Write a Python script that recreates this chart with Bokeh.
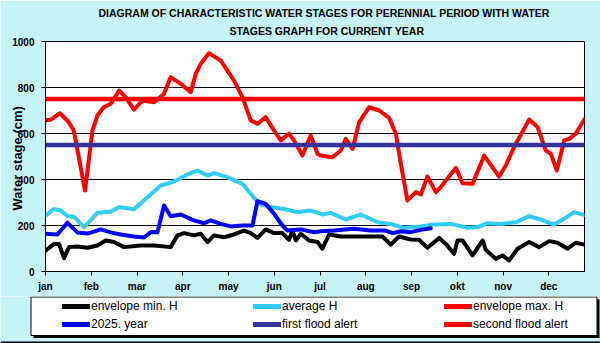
from bokeh.plotting import figure
from bokeh.models import (Range1d, FixedTicker, Legend, LegendItem, Title)
from bokeh.embed import file_html
from bokeh.resources import INLINE

# ---- data (day of year, water stage in cm) ----
MONTHS = ["jan", "feb", "mar", "apr", "may", "jun", "jul", "aug", "sep", "okt", "nov", "dec"]

min_days = [0, 5.7, 9.0, 12.3, 15.6, 21.2, 27.9, 34.5, 40.0, 45.5, 52.2, 63.3, 72.2, 83.2, 87.7, 92.1,
            98.7, 103.2, 107.7, 112.0, 118.7, 125.3, 132.0, 136.4, 140.9, 146.4, 151.9, 157.5, 161.9,
            164.2, 166.4, 169.7, 175.2, 180.8, 184.1, 188.5, 196.3, 216.2, 224.0, 229.5, 235.1, 242.8,
            248.3, 253.9, 261.7, 266.1, 271.6, 273.9, 277.2, 283.9, 290.6, 292.7, 299.4, 303.8, 308.2,
            313.8, 321.5, 328.1, 334.8, 340.4, 347.0, 352.5, 358.1]
min_vals = [91, 120, 120, 58, 106, 109, 103, 113, 135, 128, 106, 113, 113, 106, 157, 167,
            157, 164, 128, 157, 149, 161, 178, 167, 146, 183, 167, 167, 138,
            178, 135, 164, 135, 128, 99, 161, 152, 152, 152, 117, 152, 139,
            138, 103, 146, 120, 77, 135, 135, 70, 135, 94, 55, 70, 48,
            99, 128, 106, 132, 125, 99, 125, 117]

avg_days = [0, 5.7, 10.1, 14.6, 19.0, 25.6, 34.5, 43.3, 48.9, 58.8, 67.8, 76.6, 85.4, 94.4, 101.0,
            107.7, 112.0, 120.9, 130.9, 136.4, 142.0, 149.7, 158.6, 167.5, 176.3, 184.1, 189.6, 199.6,
            209.6, 220.7, 229.5, 238.4, 249.5, 258.3, 269.4, 280.5, 287.2, 293.8, 302.7, 312.7, 321.5,
            329.3, 338.1, 344.8, 351.4, 358.1]
avg_vals = [243, 272, 265, 241, 238, 193, 255, 260, 280, 271, 323, 374, 391, 422, 439,
            417, 428, 410, 381, 338, 294, 280, 272, 258, 265, 248, 255, 226,
            248, 214, 207, 190, 196, 204, 207, 190, 193, 210, 207, 214, 241,
            226, 204, 229, 258, 246]

max_days = [0, 3.5, 9.6, 15.4, 18.8, 26.3, 31.2, 34.5, 38.7, 43.3, 48.9, 53.3, 58.8, 64.4, 72.2, 78.8,
            83.2, 89.9, 96.5, 99.9, 103.2, 108.7, 116.5, 125.3, 130.9, 136.4, 140.9, 146.4, 151.9,
            156.4, 161.9, 165.2, 170.8, 176.3, 180.8, 183.0, 190.8, 196.3, 199.6, 204.1, 208.5, 215.1,
            221.8, 228.4, 232.9, 236.2, 240.6, 246.2, 249.5, 253.9, 259.5, 262.8, 272.8, 277.2, 283.9,
            291.6, 301.5, 306.0, 311.5, 321.5, 327.1, 332.6, 335.9, 339.9, 344.8, 348.1, 352.5, 358.1]
max_vals = [658, 660, 688, 650, 613, 352, 613, 678, 714, 729, 787, 758, 704, 743, 736, 773,
            845, 816, 780, 860, 903, 949, 917, 830, 758, 657, 642, 671, 613,
            570, 599, 570, 504, 591, 512, 504, 497, 526, 577, 533, 649, 714,
            700, 668, 599, 468, 309, 345, 335, 413, 345, 367, 451, 384, 381,
            504, 413, 461, 541, 661, 628, 526, 512, 439, 570, 577, 599, 661]

cur_days = [0, 7.9, 14.6, 21.2, 27.9, 36.7, 43.3, 50.0, 58.8, 65.5, 70.0, 74.4, 78.8, 83.2, 89.9,
            98.7, 105.4, 109.8, 116.5, 123.1, 130.9, 137.6, 140.9, 146.4, 151.9, 157.5, 160.8, 169.7,
            178.5, 183.0, 191.8, 205.1, 216.2, 226.2, 230.7, 236.2, 242.8, 249.5, 256.1]
cur_vals = [164, 161, 212, 170, 165, 183, 170, 161, 152, 148, 172, 171, 287, 240, 248,
            222, 210, 222, 207, 196, 200, 200, 306, 294, 251, 200, 178, 183,
            171, 175, 178, 186, 178, 178, 167, 175, 171, 181, 188]

FIRST_ALERT = 550
SECOND_ALERT = 750

SERIES_LABELS = ["envelope min. H", "average H", "envelope max. H",
                 "2025. year", "first flood alert", "second flood alert"]

X_END = 358.3
BG = "#c6f3f6"
FONT = "Liberation Sans"
COLORS = ["black", "#33CCFF", "#FF0000", "#0000FF", "#333399", "#FF0000"]
WIDTHS = [4, 4, 4, 4, 4.5, 4.5]

# ---------------- main chart ----------------
p = figure(width=600, height=296, output_backend="svg", toolbar_location=None,
           x_range=Range1d(0, X_END), y_range=Range1d(0, 1000),
           min_border_left=45, min_border_right=16, min_border_top=41, min_border_bottom=25)
p.background_fill_color = "white"
p.border_fill_color = BG
p.outline_line_color = "black"
p.outline_line_width = 1

p.xaxis.ticker = FixedTicker(ticks=[i * 365 / 12 for i in range(12)])
p.xaxis.major_label_overrides = {i * 365 / 12: m for i, m in enumerate(MONTHS)}
p.yaxis.ticker = FixedTicker(ticks=[0, 200, 400, 600, 800, 1000])
for ax in (p.xaxis[0], p.yaxis[0]):
    ax.axis_line_color = "black"
    ax.major_tick_line_color = "black"
    ax.major_tick_out = 4
    ax.major_tick_in = 0
    ax.minor_tick_line_color = None
    ax.major_label_text_font = FONT
    ax.major_label_text_font_style = "bold"
    ax.major_label_text_font_size = "10px"
    ax.major_label_text_color = "black"
p.xaxis.major_label_standoff = 5
p.yaxis.major_label_standoff = 7
p.yaxis.axis_label = "Water stage  (cm)"
p.yaxis.axis_label_text_font = FONT
p.yaxis.axis_label_text_font_style = "bold"
p.yaxis.axis_label_text_font_size = "13px"
p.yaxis.axis_label_text_color = "black"
p.yaxis.axis_label_standoff = -16
p.xgrid.grid_line_color = None
p.ygrid.grid_line_color = "black"
p.ygrid.grid_line_width = 1

series = [(min_days, min_vals), (avg_days, avg_vals), (max_days, max_vals), (cur_days, cur_vals),
          ([0, X_END], [FIRST_ALERT, FIRST_ALERT]), ([0, X_END], [SECOND_ALERT, SECOND_ALERT])]
for (xs, ys), c, w in zip(series, COLORS, WIDTHS):
    p.line(xs, ys, line_color=c, line_width=w, line_join="round", line_cap="round")

# title (two lines, first added is closest to the plot)
p.add_layout(Title(text="STAGES GRAPH FOR CURRENT  YEAR", align="left", offset=184,
                   text_font=FONT, text_font_style="bold", text_font_size="10.5px",
                   text_color="black", standoff=10), "above")
p.add_layout(Title(text="DIAGRAM OF CHARACTERISTIC WATER  STAGES FOR PERENNIAL  PERIOD  WITH WATER",
                   align="left", offset=53,
                   text_font=FONT, text_font_style="bold", text_font_size="10.5px",
                   text_color="black", standoff=-2), "above")

# ---------------- legend strip (own canvas, frame = whole strip, y = 47 - px below strip top) ----
L = figure(width=600, height=47, output_backend="svg", toolbar_location=None,
           x_range=Range1d(0, 600), y_range=Range1d(0, 47),
           x_axis_type=None, y_axis_type=None,
           min_border_left=0, min_border_right=0, min_border_top=0, min_border_bottom=0)
L.background_fill_color = BG
L.border_fill_color = BG
L.outline_line_color = None
L.xgrid.grid_line_color = None
L.ygrid.grid_line_color = None

# legend box shadow, legend box, bottom frame line of the chart area
L.quad(left=[33], right=[599], top=[44], bottom=[5.5], fill_color="black", line_color=None)
L.quad(left=[30.5], right=[596.5], top=[46.5], bottom=[8], fill_color="white",
       line_color="black", line_width=1)
L.quad(left=[0], right=[600], top=[2], bottom=[0], fill_color="black", line_color=None)

renderers = {}
for lab, c in zip(SERIES_LABELS, COLORS):
    renderers[lab] = L.line(x=[-100, -90], y=[-100, -100], line_color=c, line_width=5, line_cap="round")

# legend grid fills column by column: reorder so rows read like the reference
order = [0, 3, 1, 4, 2, 5]
items = [LegendItem(label=SERIES_LABELS[i], renderers=[renderers[SERIES_LABELS[i]]]) for i in order]

legend = Legend(items=items, ncols=3, location=(62, 12.5), padding=0, margin=0,
                glyph_width=28, glyph_height=14, label_height=14, label_width=158, spacing=4,
                label_standoff=1, background_fill_alpha=0, border_line_color=None,
                label_text_font=FONT, label_text_font_size="12px", label_text_color="black")
L.add_layout(legend, "center")

open("out.html", "w").write(file_html([p, L], INLINE))
